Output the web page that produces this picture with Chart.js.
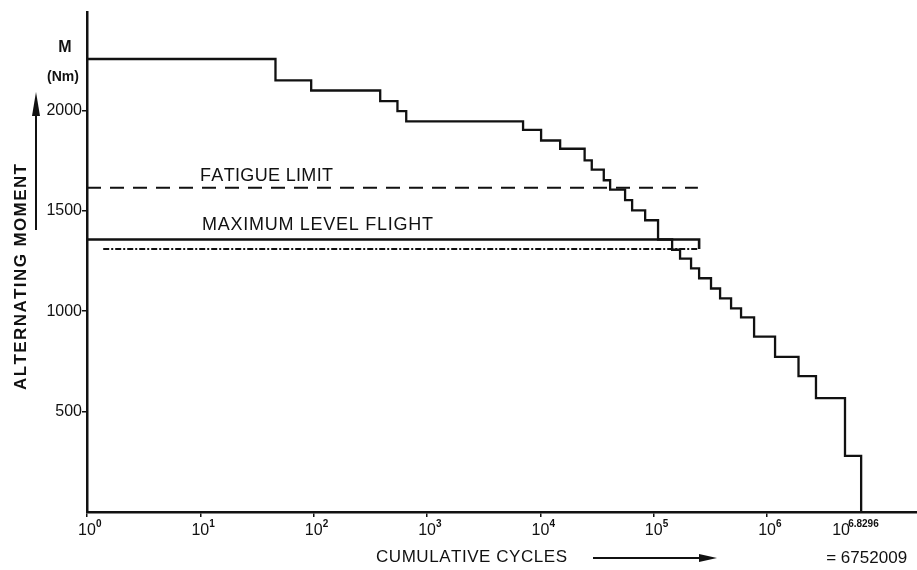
<!DOCTYPE html>
<html>
<head>
<meta charset="utf-8">
<script src="https://cdn.jsdelivr.net/npm/chart.js@4.4.1/dist/chart.umd.min.js"></script>
<style>
  html, body { margin: 0; padding: 0; background: #fff; }
  #wrap { width: 917px; height: 570px; position: relative; }
</style>
</head>
<body>
<div id="wrap"><canvas id="spectrumChart"></canvas></div>
<script>
// Load spectrum: cumulative cycles where each level starts, and the moment of that level
const cycles = [1, 46, 95, 386, 548, 655, 7030, 10140, 14930, 24550, 28380, 36220, 41210,
    55850, 64420, 83950, 109100, 145200, 170600, 213300, 251200, 319900, 384600, 480800,
    588800, 767400, 1175000, 1892000, 2698000, 4864000, 6752009];
const moments = [2256, 2149, 2099, 2046, 1996, 1945, 1903, 1850, 1809, 1751, 1705, 1652, 1605,
    1553, 1502, 1453, 1357, 1306, 1262, 1213, 1164, 1113, 1064, 1014,
    969, 873, 773, 677, 567, 280, 0];

// reference levels
const fatigueLimit = [1615, 1615];
const fatigueCycles = [1, 245000];
const levelFlightTop = [1357, 1357, 1310];
const levelFlightTopCycles = [1, 251200, 251200];
const levelFlightBottom = [1310, 1310];
const levelFlightBottomCycles = [1.39, 251200];

// axes
const momentTicks = [500, 1000, 1500, 2000];
const cycleTicks = [1, 10, 100, 1000, 10000, 100000, 1000000];
const cycleExponents = ['0', '1', '2', '3', '4', '5', '6'];
const totalCycles = 6752009;
const totalExponent = '6.8296';

const FONT = '"Liberation Sans", Arial, sans-serif';
const INK = '#111';

function pts(xs, ys) {
    return xs.map((x, i) => ({ x: x, y: ys[i] }));
}

// draw text spread between x0 and x1
function spaced(ctx, text, x0, x1, y) {
    const chars = text.split('');
    const widths = chars.map(c => ctx.measureText(c).width);
    const total = widths.reduce((a, b) => a + b, 0);
    const gap = chars.length > 1 ? (x1 - x0 - total) / (chars.length - 1) : 0;
    let cx = x0;
    ctx.textAlign = 'left';
    chars.forEach((c, i) => {
        ctx.fillText(c, cx, y);
        cx += widths[i] + gap;
    });
}

const annotations = {
    id: 'annotations',
    afterDraw(chart) {
        const ctx = chart.ctx;
        const xs = chart.scales.x;
        const ys = chart.scales.y;
        ctx.save();
        ctx.fillStyle = INK;
        ctx.strokeStyle = INK;
        ctx.textBaseline = 'middle';

        // x tick labels 10^n
        cycleTicks.forEach((v, i) => {
            const px = xs.getPixelForValue(v);
            ctx.font = '16px ' + FONT;
            ctx.textAlign = 'center';
            ctx.fillText('10', px, 531);
            ctx.font = 'bold 10px ' + FONT;
            ctx.textAlign = 'left';
            ctx.fillText(cycleExponents[i], px + 9, 524);
        });

        // total cycles label
        const tx = xs.getPixelForValue(totalCycles);
        ctx.font = '16px ' + FONT;
        ctx.textAlign = 'left';
        ctx.fillText('10', tx - 29, 531);
        ctx.font = 'bold 10px ' + FONT;
        ctx.fillText(totalExponent, tx - 13, 524);
        ctx.font = '17px ' + FONT;
        spaced(ctx, '= 6752009', tx - 35, tx + 46, 558);

        // x axis title + arrow
        ctx.font = '17px ' + FONT;
        spaced(ctx, 'CUMULATIVE CYCLES', 376, 567, 557);
        ctx.lineWidth = 2;
        ctx.beginPath();
        ctx.moveTo(593, 558);
        ctx.lineTo(703, 558);
        ctx.stroke();
        ctx.beginPath();
        ctx.moveTo(717, 558);
        ctx.lineTo(699, 554);
        ctx.lineTo(699, 562);
        ctx.closePath();
        ctx.fill();

        // y axis title (rotated) + arrow
        ctx.save();
        ctx.translate(21, 277);
        ctx.rotate(-Math.PI / 2);
        ctx.font = 'bold 17px ' + FONT;
        spaced(ctx, 'ALTERNATING MOMENT', -113, 113, 0);
        ctx.restore();
        ctx.lineWidth = 2;
        ctx.beginPath();
        ctx.moveTo(36, 230);
        ctx.lineTo(36, 110);
        ctx.stroke();
        ctx.beginPath();
        ctx.moveTo(36, 92);
        ctx.lineTo(32, 116);
        ctx.lineTo(40, 116);
        ctx.closePath();
        ctx.fill();

        // unit label
        ctx.textAlign = 'center';
        ctx.font = 'bold 16px ' + FONT;
        ctx.fillText('M', 65, 48);
        ctx.font = 'bold 14px ' + FONT;
        ctx.fillText('(Nm)', 63, 77);

        // line labels
        ctx.font = '18px ' + FONT;
        spaced(ctx, 'FATIGUE LIMIT', 200, 333, ys.getPixelForValue(fatigueLimit[0]) - 12);
        spaced(ctx, 'MAXIMUM LEVEL FLIGHT', 202, 433, ys.getPixelForValue(levelFlightTop[0]) - 14);

        ctx.restore();
    }
};

const ctx = document.getElementById('spectrumChart');
new Chart(ctx, {
    type: 'line',
    data: {
        datasets: [
            {
                label: 'Load spectrum',
                data: pts(cycles, moments),
                stepped: true,
                borderColor: INK,
                borderWidth: 2.3,
                pointRadius: 0,
                fill: false
            },
            {
                label: 'Fatigue limit',
                data: pts(fatigueCycles, fatigueLimit),
                borderColor: INK,
                borderWidth: 2,
                borderDash: [14, 9],
                pointRadius: 0
            },
            {
                label: 'Maximum level flight',
                data: pts(levelFlightTopCycles, levelFlightTop),
                borderColor: INK,
                borderWidth: 2.6,
                pointRadius: 0
            },
            {
                label: 'Maximum level flight (lower)',
                data: pts(levelFlightBottomCycles, levelFlightBottom),
                borderColor: INK,
                borderWidth: 2,
                borderDash: [6, 2, 2, 2],
                pointRadius: 0
            }
        ]
    },
    options: {
        responsive: true,
        maintainAspectRatio: false,
        animation: false,
        layout: {
            padding: { top: 12, right: 0, bottom: 0, left: 0 }
        },
        plugins: {
            legend: { display: false },
            tooltip: { enabled: false }
        },
        scales: {
            x: {
                type: 'logarithmic',
                min: 1,
                max: 21000000,
                afterBuildTicks: scale => {
                    scale.ticks = cycleTicks.map(v => ({ value: v }));
                },
                afterFit: scale => { scale.height = 58; },
                ticks: { display: false },
                grid: {
                    drawOnChartArea: false,
                    tickLength: 5,
                    color: INK,
                    lineWidth: 1.5
                },
                border: { color: INK, width: 2.5 }
            },
            y: {
                type: 'linear',
                min: 0,
                max: 2490,
                afterBuildTicks: scale => {
                    scale.ticks = momentTicks.map(v => ({ value: v }));
                },
                afterFit: scale => { scale.width = 87; },
                ticks: {
                    color: INK,
                    padding: 0,
                    font: { family: FONT, size: 16 },
                    callback: v => String(v)
                },
                grid: {
                    drawOnChartArea: false,
                    tickLength: 5,
                    color: INK,
                    lineWidth: 1.5
                },
                border: { color: INK, width: 2.5 }
            }
        }
    },
    plugins: [annotations]
});
</script>
</body>
</html>
